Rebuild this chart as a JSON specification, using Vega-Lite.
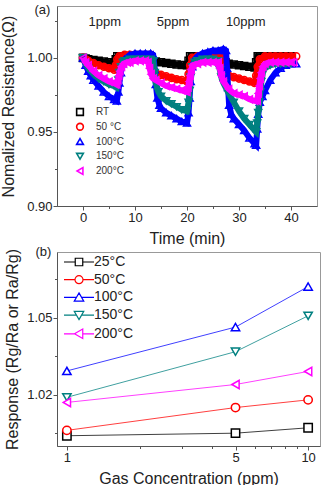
{
"$schema":"https://vega.github.io/schema/vega-lite/v6.json",
"padding":{"left":0,"top":3,"right":0,"bottom":0},
"background":"white",
"bounds":"flush",
"spacing":46,
"config":{"font":"Liberation Sans","view":{"stroke":"#999"},
 "axis":{"grid":false,"labelFontSize":13,"titleFontSize":16,"titleFontWeight":"normal","labelColor":"#222","titleColor":"#222","domainColor":"#555","tickColor":"#555","labelPadding":1,"tickSize":4},
 "legend":{"title":null,"orient":"none","padding":0}},
"resolve":{"scale":{"color":"independent","shape":"independent","stroke":"independent"},"legend":{"color":"independent","shape":"independent","stroke":"independent"}},
"vconcat":[
{
 "width":260,"height":200,
 "data":{"values":[
{"s":"RT","t":0,"v":1.0},{"s":"RT","t":0.5,"v":0.9995},{"s":"RT","t":1,"v":0.999},{"s":"RT","t":2,"v":0.9985},{"s":"RT","t":3,"v":0.998},{"s":"RT","t":4,"v":0.9975},{"s":"RT","t":5,"v":0.997},{"s":"RT","t":6,"v":0.9965},{"s":"RT","t":6.3,"v":0.999},{"s":"RT","t":6.6,"v":1.001},{"s":"RT","t":7,"v":1.001},{"s":"RT","t":8,"v":1.001},{"s":"RT","t":9,"v":1.001},{"s":"RT","t":10,"v":1.001},{"s":"RT","t":11,"v":1.001},{"s":"RT","t":12,"v":1.001},{"s":"RT","t":13,"v":1.001},{"s":"RT","t":13.3,"v":0.998},{"s":"RT","t":14,"v":0.9975},{"s":"RT","t":15,"v":0.997},{"s":"RT","t":16,"v":0.9965},{"s":"RT","t":17,"v":0.996},{"s":"RT","t":18,"v":0.9955},{"s":"RT","t":19,"v":0.9952},{"s":"RT","t":20,"v":0.995},{"s":"RT","t":20.3,"v":0.998},{"s":"RT","t":20.6,"v":1.001},{"s":"RT","t":21,"v":1.001},{"s":"RT","t":22,"v":1.001},{"s":"RT","t":23,"v":1.001},{"s":"RT","t":24,"v":1.001},{"s":"RT","t":25,"v":1.001},{"s":"RT","t":26,"v":1.001},{"s":"RT","t":27,"v":1.001},{"s":"RT","t":27.4,"v":0.997},{"s":"RT","t":28,"v":0.996},{"s":"RT","t":29,"v":0.9955},{"s":"RT","t":30,"v":0.995},{"s":"RT","t":31,"v":0.9945},{"s":"RT","t":32,"v":0.994},{"s":"RT","t":33,"v":0.9935},{"s":"RT","t":33.3,"v":0.997},{"s":"RT","t":33.6,"v":1.001},{"s":"RT","t":34,"v":1.001},{"s":"RT","t":35,"v":1.001},{"s":"RT","t":36,"v":1.001},{"s":"RT","t":37,"v":1.001},{"s":"RT","t":38,"v":1.001},{"s":"RT","t":39,"v":1.001},{"s":"RT","t":40,"v":1.001},
{"s":"50 °C","t":0,"v":1.0},{"s":"50 °C","t":0.5,"v":0.999},{"s":"50 °C","t":1,"v":0.998},{"s":"50 °C","t":2,"v":0.9965},{"s":"50 °C","t":3,"v":0.995},{"s":"50 °C","t":4,"v":0.994},{"s":"50 °C","t":5,"v":0.993},{"s":"50 °C","t":6,"v":0.992},{"s":"50 °C","t":6.3,"v":0.995},{"s":"50 °C","t":6.6,"v":0.999},{"s":"50 °C","t":7,"v":1.001},{"s":"50 °C","t":8,"v":1.002},{"s":"50 °C","t":9,"v":1.002},{"s":"50 °C","t":10,"v":1.002},{"s":"50 °C","t":11,"v":1.002},{"s":"50 °C","t":12,"v":1.002},{"s":"50 °C","t":13,"v":1.002},{"s":"50 °C","t":13.3,"v":0.996},{"s":"50 °C","t":13.6,"v":0.992},{"s":"50 °C","t":14,"v":0.99},{"s":"50 °C","t":15,"v":0.9885},{"s":"50 °C","t":16,"v":0.9875},{"s":"50 °C","t":17,"v":0.9865},{"s":"50 °C","t":18,"v":0.9855},{"s":"50 °C","t":19,"v":0.985},{"s":"50 °C","t":20,"v":0.984},{"s":"50 °C","t":20.3,"v":0.989},{"s":"50 °C","t":20.6,"v":0.995},{"s":"50 °C","t":21,"v":1.0},{"s":"50 °C","t":22,"v":1.001},{"s":"50 °C","t":23,"v":1.001},{"s":"50 °C","t":24,"v":1.001},{"s":"50 °C","t":25,"v":1.001},{"s":"50 °C","t":26,"v":1.001},{"s":"50 °C","t":27,"v":1.001},{"s":"50 °C","t":27.3,"v":0.995},{"s":"50 °C","t":27.6,"v":0.99},{"s":"50 °C","t":28,"v":0.988},{"s":"50 °C","t":29,"v":0.987},{"s":"50 °C","t":30,"v":0.986},{"s":"50 °C","t":31,"v":0.985},{"s":"50 °C","t":32,"v":0.984},{"s":"50 °C","t":33,"v":0.983},{"s":"50 °C","t":33.3,"v":0.988},{"s":"50 °C","t":33.6,"v":0.994},{"s":"50 °C","t":34,"v":0.999},{"s":"50 °C","t":35,"v":1.001},{"s":"50 °C","t":36,"v":1.001},{"s":"50 °C","t":37,"v":1.001},{"s":"50 °C","t":38,"v":1.001},{"s":"50 °C","t":39,"v":1.001},{"s":"50 °C","t":40,"v":1.001},{"s":"50 °C","t":41,"v":1.001},
{"s":"100°C","t":0,"v":1.0},{"s":"100°C","t":0.5,"v":0.995},{"s":"100°C","t":1,"v":0.991},{"s":"100°C","t":1.5,"v":0.988},{"s":"100°C","t":2,"v":0.985},{"s":"100°C","t":3,"v":0.981},{"s":"100°C","t":4,"v":0.977},{"s":"100°C","t":5,"v":0.974},{"s":"100°C","t":6,"v":0.972},{"s":"100°C","t":6.5,"v":0.971},{"s":"100°C","t":6.8,"v":0.977},{"s":"100°C","t":7,"v":0.983},{"s":"100°C","t":7.3,"v":0.99},{"s":"100°C","t":7.6,"v":0.996},{"s":"100°C","t":8,"v":0.999},{"s":"100°C","t":9,"v":1.002},{"s":"100°C","t":10,"v":1.003},{"s":"100°C","t":11,"v":1.003},{"s":"100°C","t":12,"v":1.003},{"s":"100°C","t":13,"v":1.003},{"s":"100°C","t":13.5,"v":1.002},{"s":"100°C","t":13.8,"v":0.992},{"s":"100°C","t":14,"v":0.982},{"s":"100°C","t":14.3,"v":0.973},{"s":"100°C","t":14.7,"v":0.968},{"s":"100°C","t":15,"v":0.966},{"s":"100°C","t":16,"v":0.963},{"s":"100°C","t":17,"v":0.961},{"s":"100°C","t":18,"v":0.959},{"s":"100°C","t":19,"v":0.957},{"s":"100°C","t":20,"v":0.956},{"s":"100°C","t":20.3,"v":0.963},{"s":"100°C","t":20.5,"v":0.973},{"s":"100°C","t":20.7,"v":0.984},{"s":"100°C","t":21,"v":0.994},{"s":"100°C","t":21.5,"v":0.999},{"s":"100°C","t":22,"v":1.001},{"s":"100°C","t":23,"v":1.003},{"s":"100°C","t":24,"v":1.004},{"s":"100°C","t":25,"v":1.005},{"s":"100°C","t":26,"v":1.005},{"s":"100°C","t":27,"v":1.006},{"s":"100°C","t":27.5,"v":1.005},{"s":"100°C","t":27.7,"v":0.993},{"s":"100°C","t":27.9,"v":0.98},{"s":"100°C","t":28.1,"v":0.968},{"s":"100°C","t":28.5,"v":0.962},{"s":"100°C","t":29,"v":0.959},{"s":"100°C","t":30,"v":0.955},{"s":"100°C","t":31,"v":0.951},{"s":"100°C","t":32,"v":0.946},{"s":"100°C","t":33,"v":0.942},{"s":"100°C","t":33.3,"v":0.941},{"s":"100°C","t":33.5,"v":0.952},{"s":"100°C","t":33.7,"v":0.962},{"s":"100°C","t":34,"v":0.97},{"s":"100°C","t":34.5,"v":0.974},{"s":"100°C","t":35,"v":0.978},{"s":"100°C","t":36,"v":0.985},{"s":"100°C","t":37,"v":0.99},{"s":"100°C","t":38,"v":0.993},{"s":"100°C","t":39,"v":0.995},{"s":"100°C","t":40,"v":0.996},{"s":"100°C","t":41,"v":0.996},
{"s":"150°C","t":0,"v":1.0},{"s":"150°C","t":0.5,"v":0.996},{"s":"150°C","t":1,"v":0.993},{"s":"150°C","t":2,"v":0.989},{"s":"150°C","t":3,"v":0.986},{"s":"150°C","t":4,"v":0.984},{"s":"150°C","t":5,"v":0.982},{"s":"150°C","t":6,"v":0.981},{"s":"150°C","t":6.5,"v":0.98},{"s":"150°C","t":6.8,"v":0.985},{"s":"150°C","t":7,"v":0.99},{"s":"150°C","t":7.3,"v":0.994},{"s":"150°C","t":7.7,"v":0.997},{"s":"150°C","t":8,"v":0.998},{"s":"150°C","t":9,"v":0.999},{"s":"150°C","t":10,"v":0.999},{"s":"150°C","t":11,"v":0.999},{"s":"150°C","t":12,"v":0.999},{"s":"150°C","t":13,"v":0.999},{"s":"150°C","t":13.5,"v":0.998},{"s":"150°C","t":13.8,"v":0.99},{"s":"150°C","t":14,"v":0.983},{"s":"150°C","t":14.5,"v":0.977},{"s":"150°C","t":15,"v":0.974},{"s":"150°C","t":16,"v":0.971},{"s":"150°C","t":17,"v":0.969},{"s":"150°C","t":18,"v":0.967},{"s":"150°C","t":19,"v":0.965},{"s":"150°C","t":20,"v":0.964},{"s":"150°C","t":20.3,"v":0.97},{"s":"150°C","t":20.5,"v":0.978},{"s":"150°C","t":20.7,"v":0.987},{"s":"150°C","t":21,"v":0.994},{"s":"150°C","t":21.5,"v":0.997},{"s":"150°C","t":22,"v":0.998},{"s":"150°C","t":23,"v":0.999},{"s":"150°C","t":24,"v":0.999},{"s":"150°C","t":25,"v":0.999},{"s":"150°C","t":26,"v":0.998},{"s":"150°C","t":26.3,"v":0.992},{"s":"150°C","t":26.6,"v":0.987},{"s":"150°C","t":27,"v":0.983},{"s":"150°C","t":28,"v":0.976},{"s":"150°C","t":29,"v":0.97},{"s":"150°C","t":30,"v":0.964},{"s":"150°C","t":31,"v":0.959},{"s":"150°C","t":32,"v":0.955},{"s":"150°C","t":33,"v":0.951},{"s":"150°C","t":33.3,"v":0.95},{"s":"150°C","t":33.5,"v":0.956},{"s":"150°C","t":33.7,"v":0.963},{"s":"150°C","t":33.9,"v":0.97},{"s":"150°C","t":34.1,"v":0.977},{"s":"150°C","t":34.3,"v":0.984},{"s":"150°C","t":34.6,"v":0.99},{"s":"150°C","t":35,"v":0.993},{"s":"150°C","t":36,"v":0.995},{"s":"150°C","t":37,"v":0.996},{"s":"150°C","t":38,"v":0.996},{"s":"150°C","t":39,"v":0.996},{"s":"150°C","t":40,"v":0.996},
{"s":"200°C","t":0,"v":1.0},{"s":"200°C","t":0.5,"v":0.997},{"s":"200°C","t":1,"v":0.995},{"s":"200°C","t":2,"v":0.991},{"s":"200°C","t":3,"v":0.988},{"s":"200°C","t":4,"v":0.986},{"s":"200°C","t":5,"v":0.984},{"s":"200°C","t":6,"v":0.983},{"s":"200°C","t":6.5,"v":0.982},{"s":"200°C","t":6.7,"v":0.985},{"s":"200°C","t":6.9,"v":0.988},{"s":"200°C","t":7.1,"v":0.991},{"s":"200°C","t":7.4,"v":0.994},{"s":"200°C","t":7.8,"v":0.996},{"s":"200°C","t":8.5,"v":0.997},{"s":"200°C","t":9,"v":0.997},{"s":"200°C","t":10,"v":0.998},{"s":"200°C","t":11,"v":0.998},{"s":"200°C","t":12,"v":0.998},{"s":"200°C","t":12.5,"v":0.997},{"s":"200°C","t":12.8,"v":0.993},{"s":"200°C","t":13.1,"v":0.989},{"s":"200°C","t":13.5,"v":0.986},{"s":"200°C","t":14,"v":0.985},{"s":"200°C","t":15,"v":0.983},{"s":"200°C","t":16,"v":0.981},{"s":"200°C","t":17,"v":0.98},{"s":"200°C","t":18,"v":0.979},{"s":"200°C","t":19,"v":0.978},{"s":"200°C","t":20,"v":0.977},{"s":"200°C","t":20.2,"v":0.98},{"s":"200°C","t":20.4,"v":0.984},{"s":"200°C","t":20.6,"v":0.988},{"s":"200°C","t":20.8,"v":0.992},{"s":"200°C","t":21.1,"v":0.995},{"s":"200°C","t":22,"v":0.996},{"s":"200°C","t":23,"v":0.997},{"s":"200°C","t":24,"v":0.997},{"s":"200°C","t":25,"v":0.997},{"s":"200°C","t":26,"v":0.997},{"s":"200°C","t":26.3,"v":0.993},{"s":"200°C","t":26.6,"v":0.988},{"s":"200°C","t":27,"v":0.984},{"s":"200°C","t":28,"v":0.979},{"s":"200°C","t":29,"v":0.976},{"s":"200°C","t":30,"v":0.975},{"s":"200°C","t":31,"v":0.974},{"s":"200°C","t":32,"v":0.972},{"s":"200°C","t":33,"v":0.971},{"s":"200°C","t":33.5,"v":0.971},{"s":"200°C","t":33.7,"v":0.976},{"s":"200°C","t":33.9,"v":0.981},{"s":"200°C","t":34.1,"v":0.986},{"s":"200°C","t":34.3,"v":0.99},{"s":"200°C","t":34.6,"v":0.994},{"s":"200°C","t":35,"v":0.996},{"s":"200°C","t":36,"v":0.997},{"s":"200°C","t":37,"v":0.997},{"s":"200°C","t":38,"v":0.997},{"s":"200°C","t":39,"v":0.997},{"s":"200°C","t":40,"v":0.997},{"s":"200°C","t":40.5,"v":0.997}
 ]},
 "encoding":{
  "x":{"field":"t","type":"quantitative","scale":{"domain":[-5,45],"nice":false,"zero":false},
   "axis":{"title":"Time (min)","values":[0,5,10,15,20,25,30,35,40],"labelExpr":"datum.value % 10 === 0 ? datum.label : ''","tickSize":{"condition":{"test":"datum.value % 10 === 0","value":4},"value":2.5},"titlePadding":6}},
  "y":{"field":"v","type":"quantitative","scale":{"domain":[0.9,1.035],"nice":false,"zero":false},
   "axis":{"title":"Nomalized Resistance(Ω)","values":[0.9,0.925,0.95,0.975,1.0,1.025],"labelExpr":"indexof([0.9,0.95,1],datum.value) >= 0 ? format(datum.value,'.2f') : ''","tickSize":{"condition":{"test":"indexof([0.9,0.95,1],datum.value) >= 0","value":4},"value":2.5},"titlePadding":10}}
 },
 "layer":[
  {"transform":[{"filter":"datum.s === 'RT'"}],"layer":[
   {"mark":{"type":"line","color":"#000000","strokeWidth":6},"encoding":{}},
   {"mark":{"type":"point","filled":false,"strokeWidth":1.5,"size":50,"opacity":1},
    "encoding":{"color":{"field":"s","type":"nominal","scale":{"domain":["RT","50 °C","100°C","150°C","200°C"],"range":["#000000","#ff0000","#0000ff","#008080","#ff00ff"]},
      "legend":{"legendX":18,"legendY":101,"labelFontSize":10,"labelColor":"#333","symbolSize":45,"symbolStrokeWidth":1.6,"labelOffset":11,"rowPadding":0.75}},
     "shape":{"field":"s","type":"nominal","scale":{"domain":["RT","50 °C","100°C","150°C","200°C"],"range":["square","circle","triangle-up","triangle-down","triangle-left"]}}}}
  ]},
  {"transform":[{"filter":"datum.s === '50 °C'"}],"layer":[
   {"mark":{"type":"line","color":"#ff0000","strokeWidth":6},"encoding":{}},
   {"mark":{"type":"point","filled":false,"strokeWidth":1.5,"size":50,"opacity":1},
    "encoding":{"color":{"field":"s","type":"nominal"},"shape":{"field":"s","type":"nominal"}}}
  ]},
  {"transform":[{"filter":"datum.s === '100°C'"}],"layer":[
   {"mark":{"type":"line","color":"#0000ff","strokeWidth":6},"encoding":{}},
   {"mark":{"type":"point","filled":false,"strokeWidth":1.5,"size":50,"opacity":1},
    "encoding":{"color":{"field":"s","type":"nominal"},"shape":{"field":"s","type":"nominal"}}}
  ]},
  {"transform":[{"filter":"datum.s === '150°C'"}],"layer":[
   {"mark":{"type":"line","color":"#008080","strokeWidth":6},"encoding":{}},
   {"mark":{"type":"point","filled":false,"strokeWidth":1.5,"size":50,"opacity":1},
    "encoding":{"color":{"field":"s","type":"nominal"},"shape":{"field":"s","type":"nominal"}}}
  ]},
  {"transform":[{"filter":"datum.s === '200°C'"}],"layer":[
   {"mark":{"type":"line","color":"#ff00ff","strokeWidth":6},"encoding":{}},
   {"mark":{"type":"point","filled":false,"strokeWidth":1.5,"size":50,"opacity":1},
    "encoding":{"color":{"field":"s","type":"nominal"},"shape":{"field":"s","type":"nominal"}}}
  ]},
  {"data":{"values":[{"lab":"1ppm","t":4.2,"v":1.0243},{"lab":"5ppm","t":17.3,"v":1.0243},{"lab":"10ppm","t":31.3,"v":1.0243},{"lab":"(a)","t":-7.8,"v":1.0324}]},
   "mark":{"type":"text","fontSize":13,"color":"#222"},"encoding":{"text":{"field":"lab"}}}
 ]
},
{
 "width":263,"height":194,
 "data":{"values":[
  {"T":"25°C","c":1,"r":1.004},{"T":"25°C","c":5,"r":1.005},{"T":"25°C","c":10,"r":1.0071},
  {"T":"50°C","c":1,"r":1.0061},{"T":"50°C","c":5,"r":1.015},{"T":"50°C","c":10,"r":1.018},
  {"T":"100°C","c":1,"r":1.0293},{"T":"100°C","c":5,"r":1.0464},{"T":"100°C","c":10,"r":1.0622},
  {"T":"150°C","c":1,"r":1.019},{"T":"150°C","c":5,"r":1.0368},{"T":"150°C","c":10,"r":1.0508},
  {"T":"200°C","c":1,"r":1.017},{"T":"200°C","c":5,"r":1.024},{"T":"200°C","c":10,"r":1.0291}
 ]},
 "resolve":{"scale":{"shape":"independent","stroke":"independent"},"legend":{"shape":"independent","stroke":"independent"}},
 "encoding":{
  "x":{"field":"c","type":"quantitative","scale":{"type":"log","domain":[0.91,11.2],"nice":false},
   "axis":{"title":"Gas Concentration (ppm)","values":[1,2,3,4,5,6,7,8,9,10],"labelExpr":"indexof([1,5,10],datum.value) >= 0 ? format(datum.value,'d') : ''","tickSize":{"condition":{"test":"indexof([1,5,10],datum.value) >= 0","value":4},"value":2.5},"titlePadding":6}},
  "y":{"field":"r","type":"quantitative","scale":{"domain":[1.0,1.0757],"nice":false,"zero":false},
   "axis":{"title":"Response (Rg/Ra or Ra/Rg)","values":[1.005,1.02,1.035,1.05,1.065],"labelExpr":"indexof([1.02,1.05],datum.value) >= 0 ? format(datum.value,'.2f') : ''","tickSize":{"condition":{"test":"indexof([1.02,1.05],datum.value) >= 0","value":4},"value":2.5},"titlePadding":6}}
 },
 "layer":[
  {"mark":{"type":"line","strokeWidth":1,"opacity":0.75},
   "encoding":{"stroke":{"field":"T","type":"nominal","scale":{"domain":["25°C","50°C","100°C","150°C","200°C"],"range":["#000000","#ff0000","#0000ff","#008080","#ff00ff"]},"legend":null}}},
  {"mark":{"type":"point","filled":true,"fill":"white","strokeWidth":1.5,"size":70,"opacity":1},
   "encoding":{"stroke":{"field":"T","type":"nominal","scale":{"domain":["25°C","50°C","100°C","150°C","200°C"],"range":["#000000","#ff0000","#0000ff","#008080","#ff00ff"]},"legend":null},
    "shape":{"field":"T","type":"nominal","scale":{"domain":["25°C","50°C","100°C","150°C","200°C"],"range":["square","circle","triangle-up","triangle-down","triangle-left"]},"legend":null}}},
  {"transform":[{"filter":"false"}],
   "mark":{"type":"point","filled":true,"fill":"white","strokeWidth":1.2,"size":100,"opacity":1},
   "encoding":{"stroke":{"field":"T","type":"nominal","scale":{"domain":["25°C","50°C","100°C","150°C","200°C"],"range":["#000000","#ff0000","#0000ff","#008080","#ff00ff"]},
     "legend":{"legendX":15,"legendY":3,"labelFontSize":14,"labelColor":"#222","symbolSize":100,"symbolStrokeWidth":1.2,"symbolFillColor":"white","symbolOpacity":1,"labelOffset":8,"rowPadding":3.7}},
    "shape":{"field":"T","type":"nominal","scale":{"domain":["25°C","50°C","100°C","150°C","200°C"],"range":["M-3,0H-0.75M0.75,0H3M-0.75,-0.75H0.75V0.75H-0.75Z","M-3,0H-0.8M0.8,0H3M-0.8,0A0.8,0.8,0,1,0,0.8,0A0.8,0.8,0,1,0,-0.8,0Z","M-3,0H-0.52M0.52,0H3M0,-0.9L0.95,0.75H-0.95Z","M-3,0H-0.52M0.52,0H3M0,0.9L0.95,-0.75H-0.95Z","M-3,0H-0.9M0.75,0H3M-0.9,0L0.75,-0.95V0.95Z"]},
     "legend":{"legendX":15,"legendY":3,"labelFontSize":14,"labelColor":"#222","symbolSize":100,"symbolStrokeWidth":1.2,"symbolFillColor":"white","symbolOpacity":1,"labelOffset":8,"rowPadding":3.7}}}},
  {"data":{"values":[{"lab":"(b)","c":0.799,"r":1.0757}]},
   "mark":{"type":"text","fontSize":13,"color":"#222"},"encoding":{"text":{"field":"lab"}}}
 ]
}
]
}
